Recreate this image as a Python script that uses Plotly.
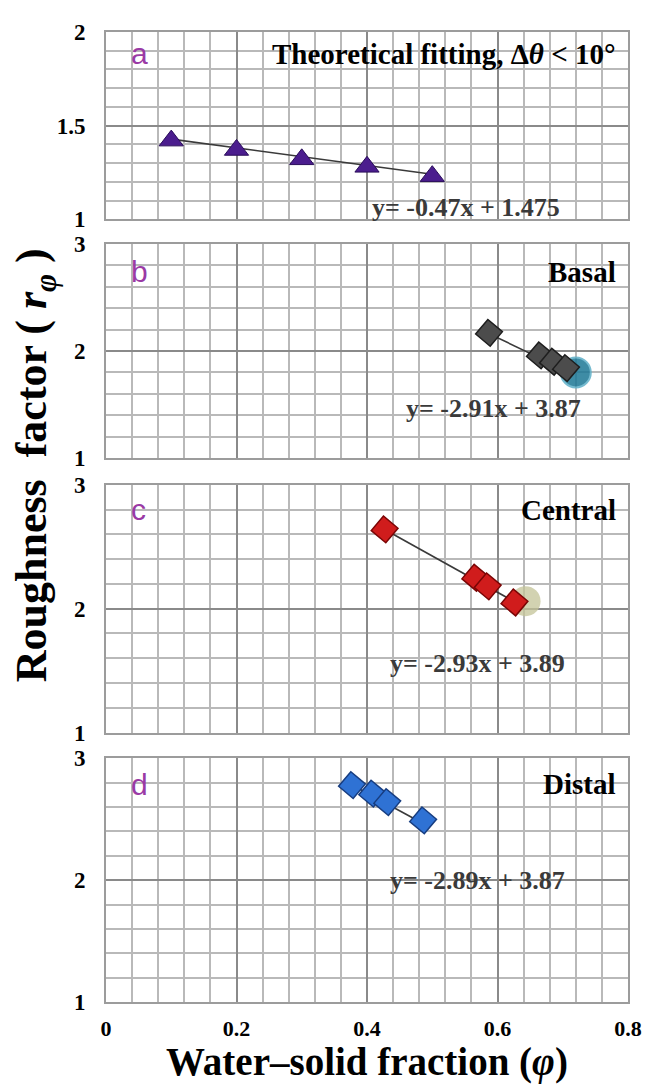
import plotly.graph_objects as go

# ---------------- data ----------------
x_ticks = [0, 0.2, 0.4, 0.6, 0.8]
x_tick_labels = ["0", "0.2", "0.4", "0.6", "0.8"]

# panel a : theoretical fitting
xa = [0.1, 0.2, 0.3, 0.4, 0.5]
ya = [1.42, 1.37, 1.32, 1.28, 1.23]
fit_a_x = [0.1, 0.5]
fit_a_y = [1.428, 1.24]

# panel b : basal
xb = [0.587, 0.665, 0.685, 0.705]
yb = [2.17, 1.96, 1.90, 1.84]
fit_b_x = [0.587, 0.715]
fit_b_y = [2.162, 1.789]
hl_b_x = [0.72]
hl_b_y = [1.80]

# panel c : central
xc = [0.427, 0.566, 0.585, 0.626]
yc = [2.64, 2.25, 2.18, 2.05]
fit_c_x = [0.427, 0.64]
fit_c_y = [2.639, 2.015]
hl_c_x = [0.643]
hl_c_y = [2.06]

# panel d : distal
xd = [0.377, 0.408, 0.431, 0.486]
yd = [2.78, 2.71, 2.64, 2.49]
fit_d_x = [0.377, 0.486]
fit_d_y = [2.780, 2.465]

panel_letters = ["a", "b", "c", "d"]
panel_titles = ["Theoretical fitting, Δ<i>θ</i> < 10°", "Basal", "Central", "Distal"]
equations = ["y= -0.47x + 1.475", "y= -2.91x + 3.87", "y= -2.93x + 3.89", "y= -2.89x + 3.87"]

# ---------------- figure ----------------
OFF = 8                      # page body margin of the html page
W, H = 654 - OFF, 1086 - OFF
ML, MR, MT, MB = 106 - OFF, 24, 23 - OFF, 84
ph = H - MT - MB

def py(ref_y):
    """reference pixel row -> paper fraction"""
    return (H - MB - (ref_y - OFF)) / ph

def frac(top_px, bot_px):
    return [py(bot_px), py(top_px)]

domains = [frac(23, 212), frac(237, 453), frac(480, 730), frac(756, 1002)]
yranges = [[1, 2], [1, 3], [1, 3], [1, 3]]
ydticks = [0.5, 1, 1, 1]
yminor = [0.1, 0.2, 0.2, 0.2]

SERIF = "Liberation Serif"
major_grid = "#8a8a8a"
minor_grid = "#b9b9b9"
border = "#9c9c9c"

fig = go.Figure()

def ax(i):
    return ("x" if i == 0 else f"x{i+1}"), ("y" if i == 0 else f"y{i+1}")

line_style = dict(color="#3a3a3a", width=1.6)

# panel a
xr, yr = ax(0)
fig.add_trace(go.Scatter(x=fit_a_x, y=fit_a_y, mode="lines", line=line_style, xaxis=xr, yaxis=yr, showlegend=False))
fig.add_trace(go.Scatter(x=xa, y=ya, mode="markers", xaxis=xr, yaxis=yr, showlegend=False,
                         marker=dict(symbol="triangle-up", size=21, color="#4b1d8e",
                                     line=dict(color="#2a0d5a", width=1))))

# panel b
xr, yr = ax(1)
fig.add_trace(go.Scatter(x=hl_b_x, y=hl_b_y, mode="markers", xaxis=xr, yaxis=yr, showlegend=False,
                         marker=dict(symbol="circle", size=30, color="#1d7896", opacity=0.85,
                                     line=dict(color="#5fb0c8", width=2))))
fig.add_trace(go.Scatter(x=fit_b_x, y=fit_b_y, mode="lines", line=line_style, xaxis=xr, yaxis=yr, showlegend=False))
fig.add_trace(go.Scatter(x=xb, y=yb, mode="markers", xaxis=xr, yaxis=yr, showlegend=False,
                         marker=dict(symbol="square", angle=40, size=19, color="#4c4c4c",
                                     line=dict(color="#1e1e1e", width=1.5))))

# panel c
xr, yr = ax(2)
fig.add_trace(go.Scatter(x=hl_c_x, y=hl_c_y, mode="markers", xaxis=xr, yaxis=yr, showlegend=False,
                         marker=dict(symbol="circle", size=30, color="#c3c397", opacity=0.75,
                                     line=dict(width=0))))
fig.add_trace(go.Scatter(x=fit_c_x, y=fit_c_y, mode="lines", line=line_style, xaxis=xr, yaxis=yr, showlegend=False))
fig.add_trace(go.Scatter(x=xc, y=yc, mode="markers", xaxis=xr, yaxis=yr, showlegend=False,
                         marker=dict(symbol="square", angle=40, size=19, color="#d01c1c",
                                     line=dict(color="#7a0505", width=1.5))))

# panel d
xr, yr = ax(3)
fig.add_trace(go.Scatter(x=fit_d_x, y=fit_d_y, mode="lines", line=line_style, xaxis=xr, yaxis=yr, showlegend=False))
fig.add_trace(go.Scatter(x=xd, y=yd, mode="markers", xaxis=xr, yaxis=yr, showlegend=False,
                         marker=dict(symbol="square", angle=40, size=19, color="#2f72d4",
                                     line=dict(color="#173d80", width=1.5))))

layout = dict(
    width=W, height=H,
    margin=dict(l=ML, r=MR, t=MT, b=MB),
    paper_bgcolor="white", plot_bgcolor="white",
    showlegend=False,
)

for i in range(4):
    xk = "xaxis" if i == 0 else f"xaxis{i+1}"
    yk = "yaxis" if i == 0 else f"yaxis{i+1}"
    xr, yr = ax(i)
    layout[xk] = dict(
        domain=[0, 1], anchor=yr, range=[0, 0.8],
        tickvals=x_ticks, ticktext=x_tick_labels,
        showticklabels=(i == 3),
        tickfont=dict(family=SERIF, size=22, color="black", weight="bold"),
        ticks="", ticklabelstandoff=6,
        showgrid=True, gridcolor=major_grid, gridwidth=1.6,
        minor=dict(dtick=0.04, tick0=0, showgrid=True, gridcolor=minor_grid, gridwidth=1.5),
        showline=True, mirror=True, linecolor=border, linewidth=1.6,
        zeroline=False, fixedrange=True,
    )
    layout[yk] = dict(
        domain=domains[i], anchor=xr, range=yranges[i],
        dtick=ydticks[i], tick0=0,
        tickfont=dict(family=SERIF, size=23, color="black", weight="bold"),
        ticks="", ticklabelstandoff=14,
        showgrid=True, gridcolor=major_grid, gridwidth=1.6,
        minor=dict(dtick=yminor[i], tick0=0, showgrid=True, gridcolor=minor_grid, gridwidth=1.5),
        showline=True, mirror=True, linecolor=border, linewidth=1.6,
        zeroline=False, fixedrange=True,
    )

fig.update_layout(**layout)

annotations = []
eq_pos = [(0.505, 0.065), (0.57, 0.23), (0.54, 0.28), (0.54, 0.50)]
title_y = [0.884, 0.87, 0.9, 0.894]
for i in range(4):
    xr, yr = ax(i)
    annotations.append(dict(
        x=0.044, y=title_y[i], xref=f"{xr} domain", yref=f"{yr} domain",
        text=panel_letters[i], showarrow=False, xanchor="left", yanchor="middle",
        font=dict(family="Liberation Sans", size=30, color="#9a3aa5")))
    annotations.append(dict(
        x=0.98, y=title_y[i], xref=f"{xr} domain", yref=f"{yr} domain",
        text=panel_titles[i], showarrow=False, xanchor="right", yanchor="middle",
        font=dict(family=SERIF, size=29, color="black", weight="bold")))
    annotations.append(dict(
        x=eq_pos[i][0], y=eq_pos[i][1], xref=f"{xr} domain", yref=f"{yr} domain",
        text=equations[i], showarrow=False, xanchor="left", yanchor="middle",
        font=dict(family=SERIF, size=26, color="#3a3a3a", weight="bold")))

annotations.append(dict(
    x=0.5, y=py(1063), xref="paper", yref="paper",
    text="Water–solid fraction (<i>φ</i>)", showarrow=False,
    xanchor="center", yanchor="middle",
    font=dict(family=SERIF, size=39, color="black", weight="bold")))
annotations.append(dict(
    x=(35 - 106) / (654 - 106 - 24), y=py(460), xref="paper", yref="paper", textangle=-90,
    text="Roughness  factor ( <i>r</i><sub><i>φ</i></sub> )", showarrow=False,
    xanchor="center", yanchor="middle",
    font=dict(family=SERIF, size=44, color="black", weight="bold")))

fig.update_layout(annotations=annotations)
fig.write_html("out.html")
